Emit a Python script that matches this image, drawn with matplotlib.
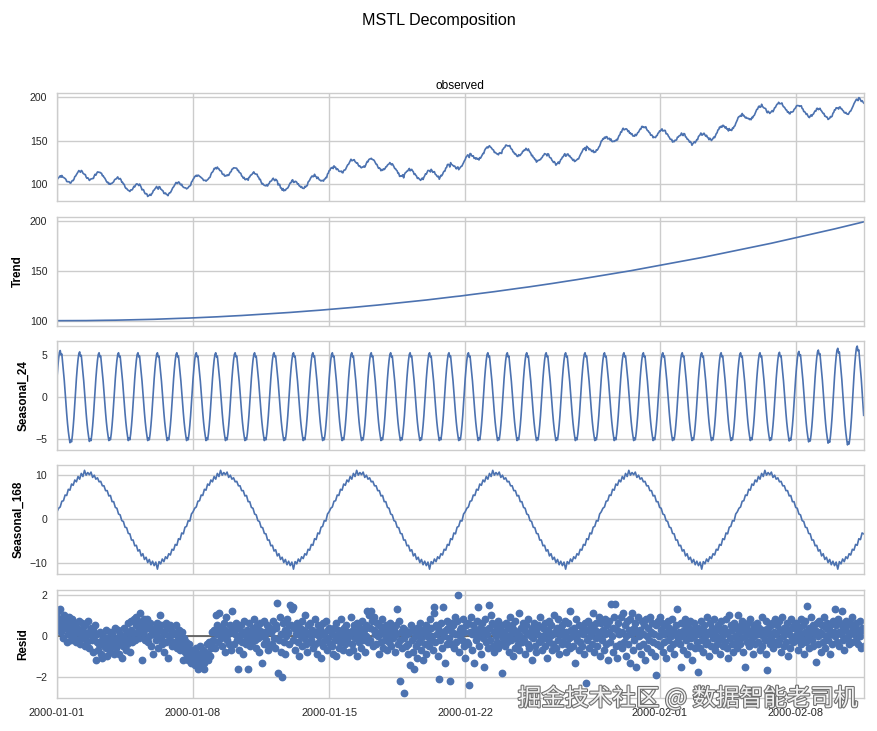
import numpy as np
import pandas as pd
import matplotlib
matplotlib.use("Agg")
import matplotlib.pyplot as plt
import matplotlib.dates as mdates
import matplotlib.patheffects as pe

# trend, read every 6 hours from 2000-01-01 00:00
trend = [100.0, 100.0, 100.0, 100.0, 100.1, 100.1, 100.1, 100.2, 100.2, 100.3,
         100.4, 100.4, 100.5, 100.6, 100.7, 100.8, 100.9, 101.0, 101.2, 101.3,
         101.4, 101.6, 101.7, 101.9, 102.1, 102.3, 102.4, 102.6, 102.8, 103.0,
         103.2, 103.5, 103.7, 103.9, 104.2, 104.4, 104.7, 104.9, 105.2, 105.5,
         105.8, 106.1, 106.4, 106.7, 107.0, 107.3, 107.6, 108.0, 108.3, 108.7,
         109.0, 109.4, 109.8, 110.1, 110.5, 110.9, 111.3, 111.7, 112.1, 112.6,
         113.0, 113.4, 113.9, 114.3, 114.8, 115.2, 115.7, 116.2, 116.7, 117.2,
         117.7, 118.2, 118.7, 119.2, 119.8, 120.3, 120.8, 121.4, 121.9, 122.5,
         123.1, 123.7, 124.3, 124.8, 125.5, 126.1, 126.7, 127.3, 127.9, 128.6,
         129.2, 129.9, 130.5, 131.2, 131.9, 132.6, 133.2, 133.9, 134.6, 135.4,
         136.1, 136.8, 137.5, 138.3, 139.0, 139.8, 140.5, 141.3, 142.1, 142.9,
         143.6, 144.4, 145.2, 146.1, 146.9, 147.7, 148.5, 149.4, 150.2, 151.1,
         151.9, 152.8, 153.7, 154.6, 155.5, 156.4, 157.3, 158.2, 159.1, 160.0,
         161.0, 161.9, 162.8, 163.8, 164.8, 165.7, 166.7, 167.7, 168.7, 169.7,
         170.7, 171.7, 172.7, 173.8, 174.8, 175.8, 176.9, 177.9, 179.0, 180.1,
         181.2, 182.2, 183.3, 184.4, 185.5, 186.7, 187.8, 188.9, 190.0, 191.2,
         192.3, 193.5, 194.7, 195.8, 197.0, 198.2, 199.4]

# daily seasonal shape (hours 0..23) and its size day by day
day_profile = [2.2, 3.4, 4.4, 5.1, 5.3, 4.8, 4.9, 3.9, 3.0, 1.9, 0.6, -0.6,
               -1.9, -3.0, -3.9, -4.6, -5.2, -4.9, -5.1, -4.4, -3.4, -2.2, -0.7, 0.7]
day_scale = [1.05, 1.02, 1.0, 1.0, 1.0, 1.0, 1.0, 1.0, 1.0, 1.0,
             1.0, 1.0, 1.0, 1.0, 1.0, 1.0, 1.0, 1.0, 1.0, 1.0,
             1.0, 1.0, 1.0, 1.0, 1.0, 1.0, 1.0, 1.0, 1.0, 1.0,
             1.0, 1.0, 1.0, 1.0, 1.0, 1.0, 1.0, 1.01, 1.03, 1.06,
             1.1, 1.15]

# weekly seasonal shape, read every 2 hours
week_profile = [1.6, 2.4, 2.7, 4.0, 4.1, 5.4, 5.3, 6.7, 6.5, 7.9,
                7.6, 8.8, 8.4, 9.6, 9.0, 10.3, 9.6, 11.0, 9.9, 10.5,
                10.0, 10.6, 9.4, 9.9, 9.0, 9.3, 8.4, 8.5, 7.5, 7.5,
                6.4, 6.4, 5.2, 5.3, 3.9, 3.9, 2.6, 2.4, 1.1, 0.9,
                -0.4, -0.6, -1.9, -2.0, -3.3, -3.4, -4.8, -4.8, -6.1, -6.0,
                -7.3, -7.0, -8.4, -7.9, -9.2, -8.7, -9.9, -9.2, -10.4, -9.6,
                -10.6, -9.8, -11.4, -9.7, -10.2, -9.1, -9.7, -8.6, -9.0, -7.9,
                -8.2, -6.9, -7.1, -5.8, -6.0, -4.5, -4.7, -3.2, -3.4, -1.9,
                -1.7, -0.4, -0.5, 1.1]

# residuals, one row per day
resid_rows = [
    [0.9, 1.2, 0.3, 0.6, 1.3, 0.2, 0.8, -0.1, 0.5, 1.0, 0.4, 0.7, -0.3, 0.6, 0.1, 0.9, 0.3, -0.2, 0.5, 0.8, 0.0, 0.4, 0.6, -0.3],
    [0.2, 0.4, -0.2, 0.7, 0.1, -0.4, 0.3, 0.6, -0.1, 0.2, -0.5, 0.5, 0.0, -0.3, 0.7, 0.2, -0.6, 0.1, 0.4, -0.2, 0.3, -0.8, 0.0, 0.5],
    [-1.2, -0.3, 0.1, -0.7, -0.4, 0.2, -0.9, -0.2, -1.1, 0.0, -0.5, -0.3, 0.3, -0.6, -1.0, -0.1, -0.4, 0.2, -0.8, -0.5, 0.1, -0.3, -0.9, -0.2],
    [0.4, -0.6, -0.1, 0.3, -0.9, -0.4, 0.1, -0.3, -1.1, 0.0, -0.5, 0.4, -0.2, -0.7, 0.2, -0.4, 0.6, -0.1, -0.8, 0.3, 0.7, -0.3, 0.1, 0.8],
    [-0.2, 0.5, 0.9, 0.2, 0.7, -0.1, 1.1, 0.4, 0.6, -1.2, 0.1, 0.8, 0.3, -0.2, 0.5, 0.8, -0.3, 0.4, 0.0, 0.6, -0.5, 0.2, -0.9, 0.3],
    [0.1, 0.4, -0.2, 0.6, 0.0, -0.6, 0.3, 1.0, -0.1, 0.5, -0.4, 0.2, -0.8, 0.1, 0.6, -0.3, 0.4, -1.1, 0.0, 0.5, -0.2, 0.3, -0.5, 0.2],
    [-0.4, 0.1, -0.3, 0.5, -0.6, 0.0, -0.2, 0.3, -0.7, -0.4, 0.2, -1.2, -0.5, -0.1, -0.8, -0.3, -1.0, -0.6, -1.2, -0.4, -0.9, -1.3, -0.7, -1.0],
    [-1.2, -1.1, -0.8, -1.4, -0.6, -1.3, -1.6, -0.9, -1.2, -0.5, -1.5, -1.0, -0.7, -1.3, -1.6, -0.8, -1.1, -0.4, -1.2, -0.9, -0.3, -1.0, -0.6, 0.2],
    [-0.5, -0.2, 0.3, -0.6, 1.0, 0.1, 0.5, -0.3, 1.1, 0.2, -0.1, 0.4, -0.5, 0.0, 0.6, -0.8, 0.3, 0.9, -0.2, 0.1, -0.4, 0.5, 0.2, -0.7],
    [1.2, 0.4, 0.3, -0.4, 0.1, 0.6, -0.2, -1.6, 0.4, -0.7, 0.0, 0.5, -0.3, 0.2, -0.9, 0.7, 0.1, -0.4, 0.3, -0.1, -1.6, 0.6, -0.5, 0.2],
    [0.0, -0.3, 0.4, 0.8, -0.2, 0.1, -0.6, 0.5, -0.1, 0.3, -0.8, 0.6, 0.0, -1.3, 0.2, -0.4, 0.7, 0.1, -0.2, 0.5, -0.7, 0.3, -0.5, 0.4],
    [0.2, -0.4, 0.3, 0.7, -0.1, -0.6, 0.4, 0.5, 1.6, -1.8, -0.2, 0.9, -0.8, 0.1, -2.0, 0.6, -0.3, 0.3, -0.9, 0.0, 0.8, 0.2, -0.4, 0.5],
    [1.5, 0.5, 1.3, 1.4, -0.2, 0.4, -0.7, 0.1, 0.6, -0.3, 0.2, -1.0, 0.4, 0.0, 0.7, -0.5, 0.3, -0.1, 1.0, -0.4, 0.2, -0.8, 0.5, 0.1],
    [-0.3, 0.6, -0.2, 0.3, -0.6, 0.1, 0.8, -0.4, 0.2, -0.9, 0.5, 0.0, -0.3, 0.4, -1.1, 0.2, 0.6, -0.5, 0.1, -0.2, 0.7, -0.7, 0.3, -0.1],
    [0.4, -0.4, 0.3, -0.5, 0.1, -0.9, 0.4, -0.2, 0.6, -1.0, 0.0, 0.3, -0.6, 0.2, -0.3, 0.8, -0.1, -0.7, 0.4, 0.1, -0.4, 0.5, -0.2, 0.2],
    [-0.8, 0.0, 0.1, 0.9, -0.4, 0.3, -0.7, 0.5, -0.1, 0.2, -1.0, 0.6, 0.0, -0.3, 0.4, -0.6, 0.1, 0.7, -0.2, 0.3, -0.8, 0.0, 0.5, 1.2],
    [-0.3, 1.0, 0.4, -0.2, 1.2, 0.7, -0.5, 0.3, 0.9, 0.1, -0.4, 0.6, 0.0, -0.9, 0.5, 0.2, -0.3, 0.8, -0.6, 0.4, 0.1, -0.2, 0.5, -0.7],
    [0.3, 0.0, -0.3, 0.6, 0.2, -0.5, 0.4, -0.1, 0.3, -0.8, 0.5, 0.1, 1.3, -0.4, 0.7, -2.2, -0.2, 0.2, -0.6, 0.4, -2.8, -0.1, 0.3, -0.5],
    [0.1, -0.9, -0.4, 0.2, -1.4, 0.5, -0.2, -0.8, 0.3, -1.6, 0.0, -0.5, 0.4, -1.1, 0.1, -0.3, 0.6, -0.7, -0.1, 0.3, -1.2, 0.2, -0.4, 0.5],
    [-0.9, 0.0, 0.3, -0.5, 0.8, -0.2, 0.4, 0.0, -0.7, 1.1, 1.4, -0.3, 0.5, 0.1, -1.0, 0.4, -2.1, -0.2, 0.6, -0.6, 0.2, 1.4, 0.0, -1.3],
    [0.3, -0.4, 0.7, 0.4, -0.1, -2.2, 0.6, -0.4, 0.2, 0.5, -0.6, 0.9, 0.1, -0.3, 0.7, 2.0, -0.8, 0.3, 0.0, 0.4, -0.2, 0.8, -0.5, 0.2],
    [-1.1, 0.5, -0.3, 0.6, -0.4, -2.4, 0.2, 0.9, -0.7, 0.1, 0.5, -1.3, 0.3, -0.2, 0.7, 0.0, 1.4, -0.5, 0.4, -0.9, 0.2, 0.6, -0.1, -1.5],
    [0.3, 0.8, -0.3, 0.1, -0.6, 1.5, 0.4, -0.2, 1.0, 0.6, -0.5, 0.2, -0.8, 0.5, 0.0, -0.3, 0.7, -0.6, 0.3, 0.1, -0.4, -1.8, 0.5, -0.1],
    [0.2, -0.5, 0.6, 0.0, -0.3, 0.4, -0.8, 0.9, 0.1, -0.2, 0.5, -1.0, 0.3, -0.6, 0.7, -0.1, 0.2, -0.4, 1.1, -0.7, 0.0, 0.4, -0.3, 0.6],
    [-0.2, 0.3, -0.9, 0.5, 0.1, -0.4, 0.8, -0.6, 0.2, 0.0, -1.2, 0.4, -0.1, 0.6, -0.5, 0.3, -0.8, 0.1, 0.5, -0.3, 0.9, -0.2, 0.0, -0.7],
    [0.4, -0.1, 0.6, -0.5, 0.2, -1.1, 0.3, 0.7, -0.3, 0.0, 0.5, -0.7, 0.1, -0.4, 1.0, 0.2, -0.6, 0.4, -0.2, 0.8, -0.9, 0.1, 0.3, -0.4],
    [0.5, -0.3, 0.0, 0.7, -0.8, 0.2, -0.4, 0.6, -0.1, 1.2, -0.6, 0.3, 0.0, -0.5, 0.4, -1.3, 0.2, 0.8, -0.2, 0.1, -0.7, 0.5, -0.3, 0.2],
    [-0.5, 0.4, 0.1, -0.9, 0.6, -2.3, 0.3, -0.2, 0.7, -0.6, 0.0, 0.5, -0.4, 0.2, 1.1, -0.8, 0.3, -0.1, 0.6, -0.5, 0.0, 0.9, -1.0, 0.2],
    [0.6, -0.2, 0.3, -0.7, 0.8, 0.1, -0.4, 0.5, -1.2, 0.2, 0.7, -0.3, 1.55, 0.0, -0.8, 0.4, 0.9, 1.55, -0.5, 0.3, -1.1, 0.6, 0.1, -0.4],
    [0.9, -0.6, 0.2, 1.1, -0.3, 0.5, -1.0, 0.0, 0.7, -0.4, 0.3, -1.3, 0.8, 0.1, 1.1, -0.7, 0.4, -0.2, 0.6, -1.5, 0.2, 0.9, -0.5, 0.0],
    [0.3, -0.9, 0.7, 0.1, -0.4, 0.5, -1.2, 0.8, 0.0, -0.6, 0.4, -0.2, 0.9, -0.8, 0.2, 0.6, -0.3, 0.1, -1.0, -1.9, 0.5, -0.4, 0.7, 0.0],
    [0.9, -0.5, 0.3, 0.6, -0.8, 0.1, -0.3, 0.5, -1.1, 0.2, 0.7, -0.2, 0.4, -0.6, 0.0, 0.8, -0.4, 0.3, -0.9, 0.1, 0.5, -0.3, 1.3, -0.1],
    [0.2, -0.4, -1.5, 0.6, 0.0, -0.7, 0.3, 0.8, -0.2, 0.5, -0.9, 0.1, 0.4, -0.5, 0.7, -0.1, -1.2, 0.3, 0.0, 0.6, -0.6, 0.2, -0.3, -1.75],
    [0.4, 0.1, -0.6, 0.7, -0.2, 0.3, -0.8, 0.5, 0.0, -0.4, 0.9, -0.3, 0.2, -1.0, 0.6, 0.1, -0.5, 0.4, -0.1, 0.8, -0.7, 0.3, 0.0, -0.4],
    [0.5, -0.2, 0.3, -0.9, 0.7, 0.0, -0.5, 0.4, 0.1, -0.3, 0.8, -0.6, 0.2, -1.1, 1.0, -0.1, 0.5, -0.4, 0.3, -0.8, 0.6, 0.0, -0.3, 0.4],
    [-0.6, 1.0, 0.2, -0.4, 0.5, -0.1, 0.7, -0.8, 0.3, 0.0, -1.5, 0.4, -0.3, 0.6, 0.1, -0.5, 0.8, -0.2, 0.3, -0.9, 0.5, 0.0, -0.4, 0.2],
    [0.6, -0.3, 0.1, 0.4, -0.7, 0.2, 0.9, -0.5, 0.0, 0.3, -0.2, 0.7, -0.9, -1.65, 0.4, 0.1, -0.4, 0.5, -0.1, 0.6, -0.6, 0.2, 0.8, -0.3],
    [0.1, 0.5, -0.4, 0.7, -0.2, 0.3, -0.8, 0.9, 0.0, -0.5, 0.4, 0.2, -0.3, 0.6, -1.0, 0.3, 0.1, -0.6, 0.8, -0.1, 0.4, -0.3, 0.5, 0.0],
    [-0.2, 0.6, 0.3, -0.7, 0.4, 0.1, -0.4, 0.8, -0.1, 0.5, -0.9, 0.2, 0.7, -0.3, 1.46, 0.0, 0.4, -0.6, 0.3, 0.9, -0.2, 0.5, -0.5, 0.1],
    [0.3, -1.26, 0.6, 0.0, -0.4, 0.7, 0.2, -0.8, 0.5, 0.1, -0.3, 0.9, -0.6, 0.4, 0.0, 0.6, -0.2, 0.3, -0.9, 0.5, 0.1, -0.4, 0.7, 0.2],
    [1.3, 0.0, 0.5, -0.3, 0.8, 0.2, -0.5, 0.6, 0.1, 1.2, -0.2, 0.4, -0.7, 0.3, 0.7, -0.1, 0.5, 0.0, -0.4, 0.6, 0.2, 0.9, -0.3, 0.4],
    [0.1, 0.5, -0.2, 0.6, 0.3, -0.4, 0.2, 0.7, 0.0, -0.6, 0.4, 0.3, -0.5],
]

date_ticks = ["2000-01-01", "2000-01-08", "2000-01-15", "2000-01-22", "2000-02-01", "2000-02-08"]
panel_names = ["observed", "Trend", "Seasonal_24", "Seasonal_168", "Resid"]
panel_yticks = [[100, 150, 200], [100, 150, 200], [-5, 0, 5], [-10, 0, 10], [-2, 0, 2]]

resid = np.concatenate([np.array(r) for r in resid_rows])
n = len(resid)
dates = pd.date_range("2000-01-01", periods=n, freq="h")

trend_h = np.repeat(trend, 6)[:n]
seas24 = np.tile(day_profile, 42)[:n] * np.repeat(day_scale, 24)[:n]
seas168_2h = np.tile(week_profile, 6)[:len(dates[::2])]
seas168 = np.repeat(seas168_2h, 2)[:n]
observed = trend_h + seas24 + seas168 + resid

plt.rcParams['font.family'] = ['Liberation Sans', 'DejaVu Sans']
plt.rcParams['axes.edgecolor'] = '#cccccc'
plt.rcParams['axes.linewidth'] = 1.0
plt.rcParams['grid.color'] = '#cccccc'
plt.rcParams['grid.linewidth'] = 1.0

blue = '#4c72b0'
fig, axes = plt.subplots(5, 1, sharex=True, figsize=(8.78, 7.31), dpi=100)
fig.subplots_adjust(left=0.0649, right=0.9837, top=0.8732, bottom=0.0447, hspace=0.143)

axes[0].plot(dates, observed, color=blue, lw=1.2)
axes[1].plot(dates[::6][:len(trend)], trend, color=blue, lw=1.2)
axes[2].plot(dates, seas24, color=blue, lw=1.2)
axes[3].plot(dates[::2], seas168_2h, color=blue, lw=1.2)
axes[4].axhline(0, color='#555555', lw=1.2, zorder=1)
axes[4].plot(dates, resid, marker='o', linestyle='none', markersize=4.6, color=blue, zorder=2)

for i, ax in enumerate(axes):
    ax.set_facecolor('white')
    ax.grid(True)
    ax.set_axisbelow(True)
    ax.set_yticks(panel_yticks[i])
    ax.tick_params(length=0, pad=7, labelsize=7.6, colors='#262626')
    if i == 0:
        ax.set_title(panel_names[i], fontsize=8.6, pad=3)
    else:
        ax.set_ylabel(panel_names[i], fontsize=8.4, fontweight='bold')

axes[4].set_xlim(dates[0], dates[-1])
axes[4].set_xticks(pd.to_datetime(date_ticks))
axes[4].xaxis.set_major_formatter(mdates.DateFormatter('%Y-%m-%d'))
axes[4].tick_params(axis='x', labelsize=7.9)

fig.suptitle("MSTL Decomposition", fontsize=11.6, y=0.982)

fig.text(0.977, 0.045, "掘金技术社区 @ 数据智能老司机", ha='right', va='center',
         fontsize=17, color='#f2f2f2', family=['Noto Sans CJK SC', 'DejaVu Sans'],
         path_effects=[pe.withStroke(linewidth=1.6, foreground='#707070')])

fig.savefig("out.png", dpi=100)
